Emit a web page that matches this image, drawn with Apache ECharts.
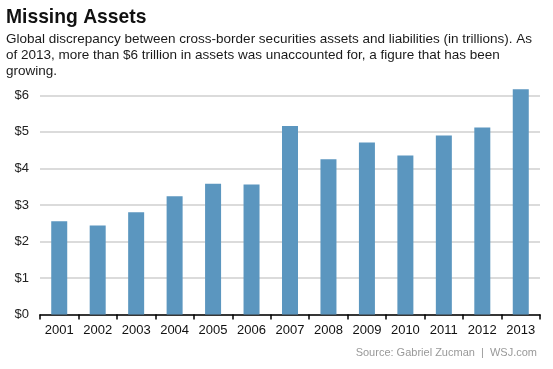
<!DOCTYPE html>
<html><head><meta charset="utf-8">
<script src="https://cdn.jsdelivr.net/npm/echarts@6/dist/echarts.min.js"></script>
<style>html,body{margin:0;padding:0;background:#fff}#c{width:553px;height:369px}</style>
</head><body><div id="c"></div>
<script>
const years = ['2001','2002','2003','2004','2005','2006','2007','2008','2009','2010','2011','2012','2013'];
const values = [2.55, 2.44, 2.80, 3.24, 3.58, 3.56, 5.16, 4.25, 4.71, 4.35, 4.90, 5.12, 6.17];
const titleText = 'Missing Assets';
const subtitleText = 'Global discrepancy between cross-border securities assets and liabilities (in trillions). As\nof 2013, more than $6 trillion in assets was unaccounted for, a figure that has been\ngrowing.';
const sourceText = 'Source: Gabriel Zucman  |  WSJ.com';

const chart = echarts.init(document.getElementById('c'), null, {renderer:'canvas'});
chart.setOption({
  animation:false,
  backgroundColor:'#fff',
  textStyle:{fontFamily:'Liberation Sans, Arial, sans-serif'},
  title:[
    {text:titleText, left:6, top:8, padding:0, textStyle:{fontSize:19.3, fontWeight:'bold', color:'#111', fontFamily:'Liberation Sans'}},
    {text:subtitleText, left:6, top:31, padding:0, textStyle:{fontSize:13.5, fontWeight:'normal', color:'#1a1a1a', lineHeight:16, fontFamily:'Liberation Sans'}},
    {text:sourceText, right:16, top:347, padding:0, textStyle:{fontSize:11, fontWeight:'normal', color:'#999', fontFamily:'Liberation Sans'}}
  ],
  grid:{left:40, right:13, top:84.4, bottom:54.5, containLabel:false},
  xAxis:{type:'category', data:years,
    axisLine:{lineStyle:{color:'#000', width:1.5}},
    axisTick:{show:true, length:5, lineStyle:{color:'#000', width:1.5}},
    axisLabel:{color:'#111', fontSize:13, margin:9, fontFamily:'Liberation Sans'}},
  yAxis:{type:'value', min:0, max:6.3, interval:1,
    axisLine:{show:false}, axisTick:{show:false},
    axisLabel:{color:'#222', fontSize:13, margin:11, showMaxLabel:false, fontFamily:'Liberation Sans',
      formatter:v => Number.isInteger(v) ? '$' + v : ''},
    splitLine:{showMaxLine:false, lineStyle:{color:'#cfcfcf', width:1.5}}},
  series:[{type:'bar', data:values, barWidth:16, itemStyle:{color:'#5b96bf'}}]
});
</script></body></html>
